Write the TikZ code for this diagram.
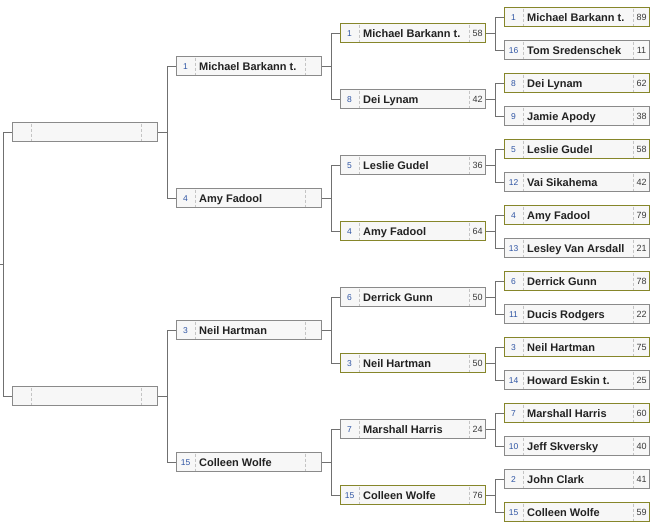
\documentclass[tikz,border=0pt]{standalone}
\usepackage{fontspec}
\setmainfont{Liberation Sans}
\usetikzlibrary{calc}
\definecolor{brLine}{HTML}{8A8A8A}
\definecolor{brWin}{HTML}{86862A}
\definecolor{brFill}{HTML}{F7F7F7}
\definecolor{brDash}{HTML}{C4C4C4}
\definecolor{brSeed}{HTML}{2F55A4}
\definecolor{brText}{HTML}{222222}
\definecolor{brScore}{HTML}{3A3A3A}
\definecolor{brWire}{HTML}{707070}

\begin{document}
\begin{tikzpicture}[
  x=1pt, y=-1pt,
  team/.style={draw=#1, line width=1pt, fill=brFill, anchor=west,
               minimum width=145pt, minimum height=19pt, inner sep=0pt},
  divider/.style={draw=brDash, line width=0.8pt, dash pattern=on 3pt off 2pt},
  seed/.style={font=\fontsize{8.5}{10}\selectfont, text=brSeed, inner sep=0pt, anchor=base},
  pname/.style={font=\fontsize{11}{13}\selectfont\bfseries, text=brText, inner sep=0pt, anchor=base west},
  score/.style={font=\fontsize{9}{11}\selectfont, text=brScore, inner sep=0pt, anchor=base},
  wire/.style={draw=brWire, line width=1pt},
]
\useasboundingbox (0,0) rectangle (655,525);

% ── Team boxes: name / x / y / seed / team / score / border ──────────────────
\foreach \n/\x/\y/\s/\t/\p/\w in {
  r1-1/504/17/1/Michael Barkann t./89/brWin,
  r1-2/504/50/16/Tom Sredenschek/11/brLine,
  r1-3/504/83/8/Dei Lynam/62/brWin,
  r1-4/504/116/9/Jamie Apody/38/brLine,
  r1-5/504/149/5/Leslie Gudel/58/brWin,
  r1-6/504/182/12/Vai Sikahema/42/brLine,
  r1-7/504/215/4/Amy Fadool/79/brWin,
  r1-8/504/248/13/Lesley Van Arsdall/21/brLine,
  r1-9/504/281/6/Derrick Gunn/78/brWin,
  r1-10/504/314/11/Ducis Rodgers/22/brLine,
  r1-11/504/347/3/Neil Hartman/75/brWin,
  r1-12/504/380/14/Howard Eskin t./25/brLine,
  r1-13/504/413/7/Marshall Harris/60/brWin,
  r1-14/504/446/10/Jeff Skversky/40/brLine,
  r1-15/504/479/2/John Clark/41/brLine,
  r1-16/504/512/15/Colleen Wolfe/59/brWin,
  r2-1/340/33/1/Michael Barkann t./58/brWin,
  r2-2/340/99/8/Dei Lynam/42/brLine,
  r2-3/340/165/5/Leslie Gudel/36/brLine,
  r2-4/340/231/4/Amy Fadool/64/brWin,
  r2-5/340/297/6/Derrick Gunn/50/brLine,
  r2-6/340/363/3/Neil Hartman/50/brWin,
  r2-7/340/429/7/Marshall Harris/24/brLine,
  r2-8/340/495/15/Colleen Wolfe/76/brWin,
  r3-1/176/66/1/Michael Barkann t.//brLine,
  r3-2/176/198/4/Amy Fadool//brLine,
  r3-3/176/330/3/Neil Hartman//brLine,
  r3-4/176/462/15/Colleen Wolfe//brLine,
  r4-1/12/132////brLine,
  r4-2/12/396////brLine}{
  \node[team=\w] (\n) at (\x,\y) {};
  \draw[divider] ($(\n.west)+(19,-8.5)$) -- ++(0,17);
  \draw[divider] ($(\n.east)+(-17,-8.5)$) -- ++(0,17);
  \node[seed]  at ($(\n.west)+(9.5,3)$) {\s};
  \node[pname] at ($(\n.west)+(23,4)$) {\t};
  \node[score] at ($(\n.east)+(-8.5,3.2)$) {\p};
}

% ── Bracket lines ─────────────────────────────────────────────────────────────
\foreach \p/\a/\b in {r2-1/r1-1/r1-2, r2-2/r1-3/r1-4, r2-3/r1-5/r1-6, r2-4/r1-7/r1-8,
                      r2-5/r1-9/r1-10, r2-6/r1-11/r1-12, r2-7/r1-13/r1-14, r2-8/r1-15/r1-16,
                      r3-1/r2-1/r2-2, r3-2/r2-3/r2-4, r3-3/r2-5/r2-6, r3-4/r2-7/r2-8,
                      r4-1/r3-1/r3-2, r4-2/r3-3/r3-4}{
  \draw[wire] (\p.east) -- ++(9,0) coordinate (v) |- (\a.west) (v) |- (\b.west);
}
\coordinate (root) at (0,264);
\draw[wire] (root) -- ++(3,0) coordinate (v) |- (r4-1.west) (v) |- (r4-2.west);

\end{tikzpicture}
\end{document}
